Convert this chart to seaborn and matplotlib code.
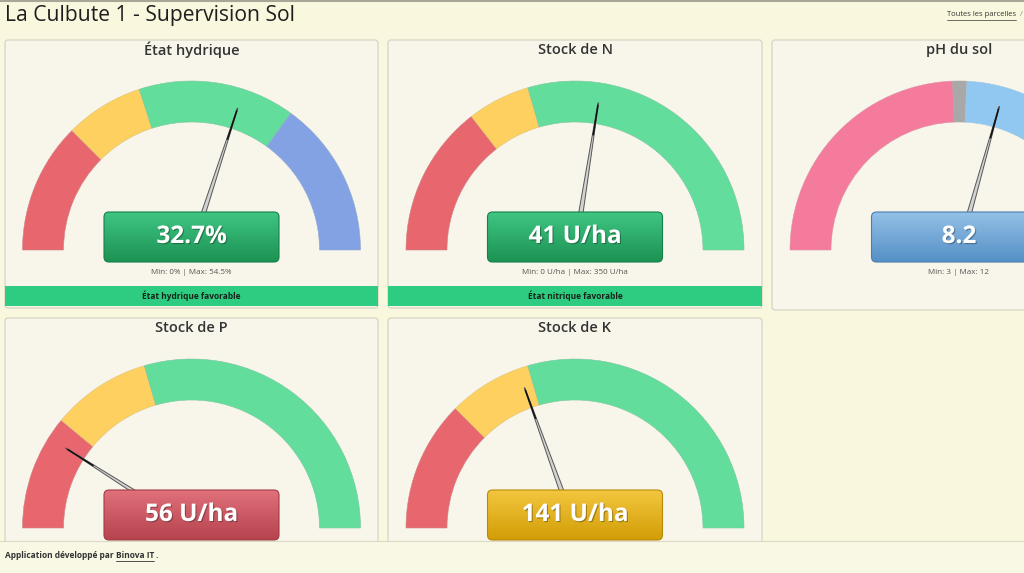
import numpy as np
import matplotlib
matplotlib.use("Agg")
import matplotlib.pyplot as plt
import matplotlib.patches as mpatches
import matplotlib.patheffects as pe
from matplotlib import font_manager as fm
import seaborn as sns

sns.set_theme(style="white")

# pick a family that really has a bold face installed
bold_family = "DejaVu Sans"
for fam in ["Noto Sans", "Open Sans", "Lato", "Roboto", "Liberation Sans"]:
    faces = [f for f in fm.fontManager.ttflist if f.name == fam]
    if any((f.weight if isinstance(f.weight, int) else 400) >= 600 for f in faces) or \
            any(str(f.weight) in ("bold", "semibold", "demibold") for f in faces):
        bold_family = fam
        break
plt.rcParams['font.family'] = [bold_family, 'DejaVu Sans']

page_title = "La Culbute 1 - Supervision Sol"
gauge_titles = ["État hydrique", "Stock de N", "pH du sol", "Stock de P", "Stock de K"]
value_labels = ["32.7%", "41 U/ha", "8.2", "56 U/ha", "141 U/ha"]
range_labels = ["Min: 0% | Max: 54.5%", "Min: 0 U/ha | Max: 350 U/ha", "Min: 3 | Max: 12", "", ""]
status_labels = ["État hydrique favorable", "État nitrique favorable", "", "", ""]
# zone limits as share of the half circle (0 = left end, 1 = right end)
zone_limits = [
    [0.0, 0.25, 0.40, 0.70, 1.0],
    [0.0, 0.29, 0.41, 1.0],
    [0.0, 0.488, 0.515, 1.0],
    [0.0, 0.22, 0.41, 1.0],
    [0.0, 0.25, 0.41, 1.0],
]
zone_colors = [
    ["#e8676f", "#fdd060", "#63dd9c", "#82a2e4"],
    ["#e8676f", "#fdd060", "#63dd9c"],
    ["#f57b9c", "#a8a8a8", "#90c8f2"],
    ["#e8676f", "#fdd060", "#63dd9c"],
    ["#e8676f", "#fdd060", "#63dd9c"],
]
needle_pos = [0.60, 0.55, 0.587, 0.18, 0.39]
box_kind = ["green", "green", "blue", "red", "gold"]

# ---------------- style / layout ----------------
PAGE = "#f9f8df"
PANEL = "#f8f6ea"
BORDER = "#d6d4c0"
box_grad = {
    "green": ("#40c583", "#1b9252", "#17804a"),
    "blue": ("#93c0e6", "#5590c6", "#4a7fae"),
    "red": ("#e0707a", "#b6434e", "#a03c45"),
    "gold": ("#f3c63e", "#d29e06", "#b88a0a"),
}
# panel boxes (x0, y0, x1, y1) in pixels, top-down
panels = [(5, 40, 378, 308), (388, 40, 762, 308), (772, 40, 1146, 310),
          (5, 318, 378, 560), (388, 318, 762, 560)]
R_OUT, R_IN = 169, 128

W, H = 1024, 573
fig = plt.figure(figsize=(W / 100, H / 100), dpi=100)
fig.patch.set_facecolor(PAGE)
ax = fig.add_axes([0, 0, 1, 1])
ax.set_facecolor(PAGE)
ax.axis("off")

ax.plot([0, W], [0.8, 0.8], color="#a8a696", lw=1.5, zorder=1)
ax.text(5, 16, page_title, fontsize=15.2, color="#1e1e1e", va="center", ha="left")
t_link = ax.text(1016, 15, "Toutes les parcelles", fontsize=5.5, color="#333333",
                 va="center", ha="right")
ax.text(1020, 15, "/", fontsize=5.5, color="#888888", va="center", ha="left")

for i, (x0, y0, x1, y1) in enumerate(panels):
    ax.add_patch(mpatches.FancyBboxPatch((x0, y0), x1 - x0, y1 - y0,
                                         boxstyle="round,pad=0,rounding_size=3",
                                         fc=PANEL, ec=BORDER, lw=0.9, zorder=2))
    cx = (x0 + x1) / 2
    cy = y0 + 210
    ax.text(cx, y0 + 10, gauge_titles[i], fontsize=10.5, fontweight="semibold",
            color="#333333", ha="center", va="center", zorder=5)

    # colour zones of the gauge
    lims = zone_limits[i]
    for k, col in enumerate(zone_colors[i]):
        t1 = 180 + lims[k] * 180
        t2 = 180 + lims[k + 1] * 180
        ax.add_patch(mpatches.Wedge((cx, cy), R_OUT, t1, t2, width=R_OUT - R_IN,
                                    fc=col, ec=sns.desaturate(col, 0.6), lw=0.4, zorder=3))

    # needle
    th = np.radians(180 + needle_pos[i] * 180)
    d = np.array([np.cos(th), np.sin(th)])
    n = np.array([-d[1], d[0]])
    c = np.array([cx, cy])
    L = 149
    poly = np.array([c + n * 2.8, c + d * L + n * 0.3, c + d * L - n * 0.3, c - n * 2.8])
    ax.add_patch(mpatches.Polygon(poly, closed=True, fc="#d2d2d2", ec="#555555",
                                  lw=0.7, zorder=4))
    tip0 = c + d * 116
    tip1 = c + d * (L - 2)
    ax.plot([tip0[0], tip1[0]], [tip0[1], tip1[1]], color="#111111", lw=1.1,
            solid_capstyle="butt", zorder=4.5)

    # value box with vertical gradient
    bx0, by0, bw, bh = cx - 87.5, cy - 38, 175, 50
    top, bot, edge = box_grad[box_kind[i]]
    box = mpatches.FancyBboxPatch((bx0, by0), bw, bh, boxstyle="round,pad=0,rounding_size=5",
                                  fc="none", ec=edge, lw=0.8, zorder=6.1)
    ax.add_patch(box)
    cmap = matplotlib.colors.LinearSegmentedColormap.from_list("g", [top, bot])
    grad = np.linspace(0, 1, 64).reshape(-1, 1)
    im = ax.imshow(grad, cmap=cmap, extent=(bx0, bx0 + bw, by0 + bh, by0), origin="upper",
                   aspect="auto", zorder=6, interpolation="bilinear")
    im.set_clip_path(box)
    ax.text(cx, cy - 13, value_labels[i], fontsize=17.5, fontweight="bold", color="white",
            ha="center", va="center", zorder=7,
            path_effects=[pe.withSimplePatchShadow(offset=(0.8, -0.8), shadow_rgbFace="#000000",
                                                   alpha=0.3)])

    if range_labels[i]:
        ax.text(cx, cy + 23, range_labels[i], fontsize=5.8, color="#555555",
                ha="center", va="center", zorder=5)
    if status_labels[i]:
        ax.add_patch(mpatches.Rectangle((x0, cy + 36), x1 - x0, 20, fc="#2ecc80",
                                        ec="none", zorder=5))
        ax.text(cx, cy + 46, status_labels[i], fontsize=6, fontweight="bold",
                color="#15241a", ha="center", va="center", zorder=6)

# footer band
ax.add_patch(mpatches.Rectangle((0, 540.5), W, H - 540.5, fc="#f9f8e5", ec="none", zorder=20))
ax.plot([0, W], [540.5, 540.5], color="#dcdac6", lw=0.8, zorder=21)
t_f1 = ax.text(5, 556, "Application développé par ", fontsize=6, fontweight="bold",
               color="#333333", va="center", ha="left", zorder=22)

ax.set_xlim(0, W)
ax.set_ylim(H, 0)

fig.canvas.draw()
r = fig.canvas.get_renderer()
inv = ax.transData.inverted()
bb = t_f1.get_window_extent(r)
xe = inv.transform((bb.x1, bb.y0))[0]
t_f2 = ax.text(xe, 556, "Binova IT", fontsize=6, fontweight="bold", color="#333333",
               va="center", ha="left", zorder=22)
fig.canvas.draw()
bb2 = t_f2.get_window_extent(r)
xe2 = inv.transform((bb2.x1, bb2.y0))[0]
ax.text(xe2 + 2, 556, ".", fontsize=6, fontweight="bold", color="#333333",
        va="center", ha="left", zorder=22)
ax.plot([xe, xe2], [561, 561], color="#333333", lw=0.6, zorder=22)
bb3 = t_link.get_window_extent(r)
lx0 = inv.transform((bb3.x0, bb3.y0))[0]
ax.plot([lx0, 1016], [20, 20], color="#333333", lw=0.5, zorder=22)

ax.set_xlim(0, W)
ax.set_ylim(H, 0)
fig.savefig("out.png", dpi=100, facecolor=PAGE)
